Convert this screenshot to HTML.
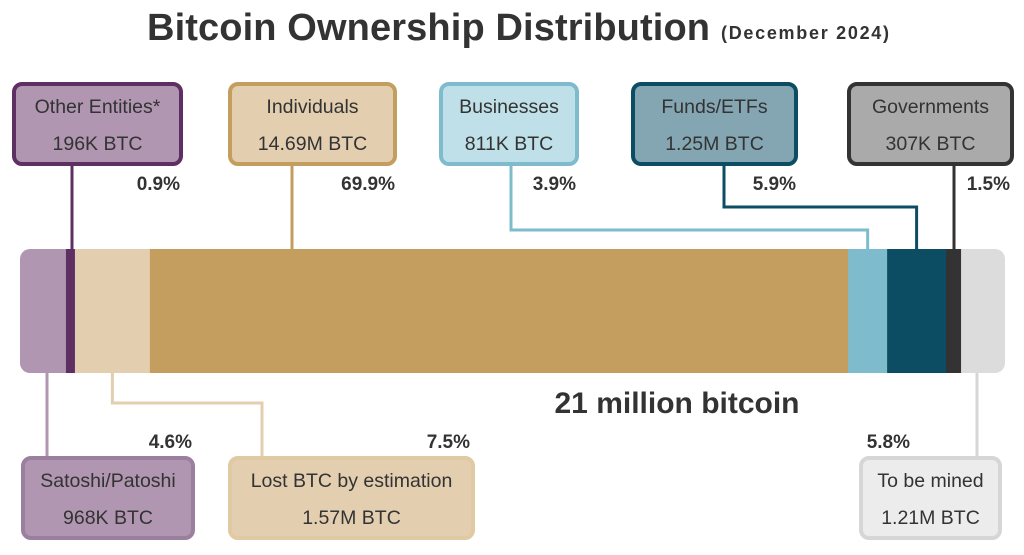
<!DOCTYPE html>
<html><head><meta charset="utf-8"><style>
html,body{margin:0;padding:0;background:#fff;width:1024px;height:555px;overflow:hidden}
svg text{font-family:"Liberation Sans",sans-serif}
</style></head><body>
<svg id="chart" width="1024" height="555" viewBox="0 0 1024 555" xmlns="http://www.w3.org/2000/svg">
<text x="147" y="40" font-size="38" font-weight="bold" fill="#333" textLength="563">Bitcoin Ownership Distribution</text>
<text x="721" y="39" font-size="18" font-weight="bold" fill="#333" textLength="168">(December 2024)</text>
<text x="677" y="413" font-size="30" font-weight="bold" fill="#333" text-anchor="middle">21 million bitcoin</text>
<g id="g"></g>
</svg>
<script>
const categories = ["Satoshi/Patoshi","Other Entities*","Lost BTC by estimation","Individuals","Businesses","Funds/ETFs","Governments","To be mined"];
const percents = [4.6,0.9,7.5,69.9,3.9,5.9,1.5,5.8];
const amounts = ["968K BTC","196K BTC","1.57M BTC","14.69M BTC","811K BTC","1.25M BTC","307K BTC","1.21M BTC"];
const pctLabels = ["4.6%","0.9%","7.5%","69.9%","3.9%","5.9%","1.5%","5.8%"];

const fills=["#b096b0","#5e2f63","#e3cfb0","#c49e5e","#7ebccd","#0c4d63","#333333","#dcdcdc"];
const boxFill=["#b096b0","#b096b0","#e3cfb0","#e3cfb0","#bfe0e8","#84a6b2","#aaaaaa","#ececec"];
const boxStroke=["#9b7f9f","#5e2f63","#e0c9a3","#c49e5e","#7ebccd","#0c4d63","#333333","#d6d6d6"];
const lineCol=["#b096b0","#5e2f63","#e3cfb0","#c49e5e","#7ebccd","#0c4d63","#333333","#d6d6d6"];
const boxes=[
 {x:23,w:170,top:false,bx:47,ey:null,lx:192},
 {x:14,w:167,top:true,bx:72,ey:null,lx:180},
 {x:230,w:243,top:false,bx:262,ey:403,lx:470},
 {x:230,w:165,top:true,bx:292,ey:null,lx:395},
 {x:441,w:136,top:true,bx:511,ey:230,lx:576},
 {x:633,w:163,top:true,bx:724,ey:207,lx:796},
 {x:849,w:163,top:true,bx:954,ey:null,lx:1010},
 {x:861,w:139,top:false,bx:977,ey:null,lx:910}
];
const BX0=20,BX1=1005,BY=249,BH=124,PXPER=9.99;
const xs=v=>Math.min(BX1,BX0+v*PXPER);
const NS="http://www.w3.org/2000/svg";
const g=document.getElementById('g');
function mk(t,a,p){const e=document.createElementNS(NS,t);for(const k in a)e.setAttribute(k,a[k]);(p||g).appendChild(e);return e;}
const defs=mk('defs',{});
const cp=mk('clipPath',{id:'barclip'},defs);
mk('rect',{x:BX0,y:BY,width:BX1-BX0,height:BH,rx:10},cp);
const barG=mk('g',{'clip-path':'url(#barclip)'});


let cum=0;const centers=[];
percents.forEach((p,i)=>{
  const x0=xs(cum);let x1=xs(cum+p);cum+=p;
  if(i===percents.length-1)x1=BX1;
  centers.push([x0,x1]);
  const r=mk('rect',{x:x0,y:BY,width:Math.max(0,x1-x0+0.5),height:BH,fill:fills[i]},barG);
  
  
});
percents.forEach((p,i)=>{
  const b=boxes[i];const [x0,x1]=centers[i];
  const tx=x0+(x1-x0)*0.5;
  const boxEdge=b.top?163:458, barEdge=b.top?BY:373;
  let d;
  if(b.ey!=null) d=`M${tx} ${barEdge} V${b.ey} H${b.bx} V${boxEdge}`;
  else d=`M${b.bx} ${barEdge} V${boxEdge}`;
  const l=mk('path',{d:d,fill:'none',stroke:lineCol[i],'stroke-width':3});
  
  
  const y=b.top?84:458;
  const r=mk('rect',{x:b.x,y:y,width:b.w,height:80,rx:8,fill:boxFill[i],stroke:boxStroke[i],'stroke-width':4});
  
  
  const t1=mk('text',{x:b.x+b.w/2,y:y+29,'font-size':19.5,fill:'#333','text-anchor':'middle'});
  t1.textContent=categories[i];
  
  
  const t2=mk('text',{x:b.x+b.w/2,y:y+66,'font-size':19.5,fill:'#333','text-anchor':'middle'});
  t2.textContent=amounts[i];
  
  
  const t3=mk('text',{x:b.lx,y:b.top?190:448,'font-size':19,'font-weight':'bold',fill:'#333','text-anchor':'end'});
  t3.textContent=pctLabels[i];
  
  
});
</script>
</body></html>
